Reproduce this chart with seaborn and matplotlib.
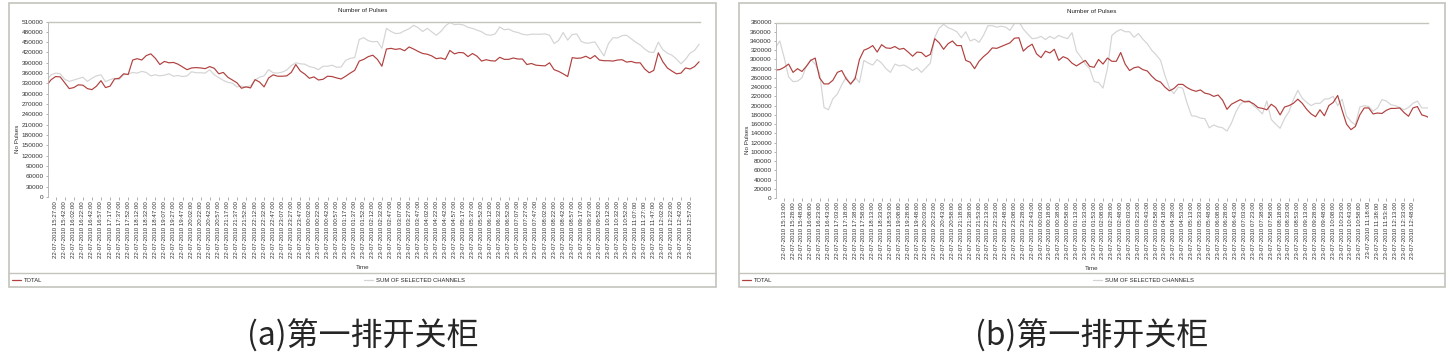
import numpy as np
import pandas as pd
import matplotlib
matplotlib.use('Agg')
import matplotlib.pyplot as plt
from matplotlib.patches import Rectangle
from matplotlib.lines import Line2D
import seaborn as sns

# tick times (label every ~20 min); date prefix follows from the hour
times_a = ['15:27', '15:42', '16:02', '16:22', '16:42', '16:57', '17:17', '17:37', '17:52',
           '18:12', '18:32', '18:47', '19:07', '19:27', '19:47', '20:02', '20:22', '20:42',
           '20:57', '21:17', '21:37', '21:52', '22:12', '22:32', '22:47', '23:07', '23:27',
           '23:47', '00:02', '00:22', '00:42', '00:57', '01:17', '01:37', '01:52', '02:12',
           '02:32', '02:47', '03:07', '03:27', '03:47', '04:02', '04:22', '04:42', '04:57',
           '05:17', '05:37', '05:52', '06:12', '06:32', '06:52', '07:07', '07:27', '07:47',
           '08:02', '08:22', '08:42', '08:57', '09:17', '09:37', '09:52', '10:12', '10:32',
           '10:52', '11:07', '11:27', '11:47', '12:02', '12:22', '12:42', '12:57']
times_b = ['15:13', '15:28', '15:48', '16:08', '16:23', '16:43', '17:03', '17:18', '17:38',
           '17:58', '18:13', '18:33', '18:53', '19:08', '19:28', '19:48', '20:03', '20:23',
           '20:43', '20:58', '21:18', '21:38', '21:53', '22:13', '22:33', '22:48', '23:08',
           '23:28', '23:43', '00:03', '00:18', '00:38', '00:58', '01:13', '01:33', '01:53',
           '02:08', '02:28', '02:48', '03:03', '03:23', '03:43', '03:58', '04:18', '04:38',
           '04:53', '05:13', '05:33', '05:48', '06:08', '06:28', '06:43', '07:03', '07:23',
           '07:38', '07:58', '08:18', '08:33', '08:53', '09:13', '09:28', '09:48', '10:08',
           '10:23', '10:43', '10:58', '11:18', '11:38', '11:53', '12:13', '12:33', '12:48']

# pulse counts in thousands, two samples per labelled interval
total_a = [324, 341, 350, 349, 332, 315, 318, 326, 325, 315,
           312, 322, 338, 318, 322, 343, 345, 358, 356, 398,
           402, 398, 411, 416, 403, 385, 394, 390, 391, 386,
           378, 370, 375, 376, 375, 373, 379, 374, 358, 362,
           348, 340, 332, 316, 320, 317, 341, 334, 320, 346,
           355, 351, 351, 352, 362, 385, 366, 357, 345, 349,
           340, 342, 351, 350, 346, 343, 351, 360, 368, 395,
           400, 408, 412, 400, 380, 430, 432, 429, 431, 425,
           436, 430, 423, 417, 415, 410, 402, 404, 400, 426,
           416, 420, 419, 408, 417, 409, 395, 399, 396, 395,
           406, 400, 400, 404, 401, 401, 385, 388, 383, 382,
           381, 390, 370, 365, 358, 350, 405, 403, 404, 409,
           402, 411, 398, 396, 396, 395, 398, 399, 392, 394,
           390, 390, 372, 361, 368, 419, 393, 375, 366, 358,
           360, 375, 372, 379, 393]
sum_a = [338, 355, 360, 358, 342, 336, 340, 344, 348, 336,
         345, 352, 355, 335, 341, 345, 341, 355, 357, 362,
         360, 365, 362, 352, 355, 352, 354, 358, 351, 353,
         350, 352, 364, 361, 361, 360, 370, 355, 347, 339,
         333, 331, 320, 322, 320, 323, 340, 348, 352, 370,
         361, 360, 363, 369, 382, 390, 387, 386, 379, 376,
         370, 380, 380, 383, 377, 378, 397, 403, 405, 458,
         463, 454, 451, 452, 432, 490, 481, 475, 476, 483,
         489, 499, 492, 481, 490, 480, 470, 481, 497, 507,
         501, 502, 500, 493, 490, 485, 480, 472, 470, 474,
         494, 486, 488, 481, 478, 473, 471, 473, 473, 473,
         474, 470, 446, 455, 478, 456, 472, 474, 452, 447,
         448, 451, 430, 410, 446, 463, 462, 469, 470, 460,
         450, 442, 430, 421, 420, 450, 428, 418, 412, 401,
         387, 400, 418, 426, 444]
total_b = [277, 278, 283, 290, 272, 280, 274, 285, 298, 303,
           260, 247, 247, 255, 272, 276, 258, 247, 258, 300,
           320, 324, 330, 316, 332, 325, 324, 328, 322, 324,
           316, 307, 316, 315, 306, 311, 345, 336, 322, 334,
           340, 330, 330, 298, 294, 280, 296, 306, 314, 325,
           324, 328, 332, 336, 346, 347, 318, 327, 333, 312,
           304, 318, 314, 322, 298, 306, 302, 292, 286, 292,
           298, 285, 283, 300, 290, 303, 296, 296, 315, 290,
           276, 282, 284, 278, 275, 264, 255, 251, 240, 232,
           237, 246, 246, 239, 234, 231, 234, 227, 225, 220,
           223, 212, 192, 203, 208, 213, 208, 209, 204, 196,
           194, 191, 203, 196, 180, 197, 200, 205, 214, 205,
           192, 182, 176, 191, 178, 200, 207, 222, 190, 160,
           148, 155, 180, 195, 195, 182, 184, 183, 190, 194,
           194, 195, 185, 177, 195, 198, 180, 177, 172]
sum_b = [325, 340, 304, 262, 252, 253, 260, 285, 300, 290,
         270, 196, 191, 215, 225, 245, 262, 245, 262, 250,
         298, 292, 288, 300, 292, 280, 272, 290, 286, 288,
         283, 276, 282, 272, 282, 292, 348, 368, 376, 369,
         365, 360, 347, 360, 340, 344, 337, 352, 373, 373,
         370, 372, 370, 363, 378, 382, 366, 355, 345, 346,
         350, 343, 350, 345, 352, 348, 345, 358, 318, 305,
         290, 280, 252, 250, 238, 280, 352, 360, 365, 360,
         360, 348, 356, 344, 334, 320, 310, 298, 265, 238,
         226, 240, 238, 205, 178, 177, 173, 172, 152, 158,
         154, 152, 145, 162, 186, 203, 210, 211, 200, 192,
         182, 210, 170, 160, 151, 172, 187, 213, 233, 216,
         207, 200, 205, 205, 214, 215, 220, 200, 214, 177,
         166, 158, 197, 200, 198, 188, 195, 213, 210, 202,
         200, 196, 191, 196, 205, 210, 195, 195, 195]

captions = ['(a)第一排开关柜', '(b)第一排开关柜']
TOTAL = 'TOTAL'
SUM = 'SUM OF SELECTED CHANNELS'
colors = {TOTAL: '#b0403f', SUM: '#d4d4d4'}
BORDER = '#c4c4bc'


def make_df(total, summ):
    df = pd.DataFrame({'idx': np.arange(len(total)),
                       TOTAL: np.array(total) * 1000,
                       SUM: np.array(summ) * 1000})
    return df.melt(id_vars='idx', var_name='series', value_name='pulses')


def tick_labels(times):
    return ['{}-07-2010 {}:00'.format('22' if int(t[:2]) >= 15 else '23', t) for t in times]


sns.set_style('white')
plt.rcParams['font.family'] = ['Liberation Sans', 'DejaVu Sans']

W, H = 1453, 364
fig = plt.figure(figsize=(W / 100, H / 100), dpi=100)


def px(x0, y0, x1, y1):
    return [x0 / W, 1 - y1 / H, (x1 - x0) / W, (y1 - y0) / H]


panels = [
    dict(total=total_a, summ=sum_a, times=times_a, ymax=510000, ystep=30000,
         axes=px(47.5, 21.5, 700, 197), xlim=(0.2, 144.2), box=(9, 716), cap=captions[0]),
    dict(total=total_b, summ=sum_b, times=times_b, ymax=380000, ystep=20000,
         axes=px(776, 22.5, 1428, 198), xlim=(0.15, 147.4), box=(739, 1445), cap=captions[1]),
]

for p in panels:
    ax = fig.add_axes(p['axes'])
    df = make_df(p['total'], p['summ'])
    sns.lineplot(data=df, x='idx', y='pulses', hue='series', hue_order=[SUM, TOTAL],
                 palette=colors, estimator=None, legend=False, lw=0.85, ax=ax)
    ax.set_xlim(*p['xlim'])
    ax.set_ylim(0, p['ymax'])
    ax.set_yticks(np.arange(0, p['ymax'] + 1, p['ystep']))
    ax.set_yticklabels([str(v) for v in np.arange(0, p['ymax'] + 1, p['ystep'])])
    ax.set_xticks(2 + 2 * np.arange(len(p['times'])))
    ax.set_xticklabels(tick_labels(p['times']), rotation=90)
    ax.tick_params(axis='both', length=1.8, width=0.5, color='#909090',
                   pad=1.2, labelcolor='#333333')
    ax.tick_params(axis='x', labelsize=4.4)
    ax.tick_params(axis='y', labelsize=4.6)
    ax.tick_params(axis='both', which='both', bottom=True, left=True)
    for s in ['right', 'bottom']:
        ax.spines[s].set_visible(False)
    ax.spines['top'].set_color(BORDER)
    ax.spines['top'].set_linewidth(1.0)
    ax.spines['left'].set_color('#b0b0b0')
    ax.spines['left'].set_linewidth(0.6)

    x0, x1 = p['box']
    axl, axr = p['axes'][0] * W, (p['axes'][0] + p['axes'][2]) * W
    cx = ((x0 + x1) / 2 - axl) / (axr - axl)
    ax.set_ylabel('No Pulses', fontsize=4.5, color='#333333')
    ax.yaxis.set_label_coords((x0 + 11 - axl) / (axr - axl), 0.33)
    ax.set_xlabel('Time', fontsize=4.5, color='#333333')
    ax.xaxis.set_label_coords(cx, -0.385)
    ax.text(cx, 1.06, 'Number of Pulses', transform=ax.transAxes, ha='center',
            va='center', fontsize=4.5, color='#222222')

    # panel frame and legend strip
    fig.patches.append(Rectangle((x0 / W, 1 - 287 / H), (x1 - x0) / W, 284 / H,
                                 transform=fig.transFigure, fill=False,
                                 ec=BORDER, lw=1.2))
    fig.lines.append(Line2D([x0 / W, x1 / W], [1 - 273 / H] * 2,
                            transform=fig.transFigure, color=BORDER, lw=1.0))
    for name, lx in [(TOTAL, x0 + 3), (SUM, (x0 + x1) / 2 + 1)]:
        fig.legend(handles=[Line2D([], [], color=colors[name], lw=0.9)], labels=[name],
                   loc='center left', bbox_to_anchor=(lx / W, 1 - 280 / H),
                   frameon=False, fontsize=4.2, handlelength=1.6, handletextpad=0.5,
                   borderpad=0, borderaxespad=0)

    fig.text((x0 + x1) / 2 / W, 1 - 336 / H, p['cap'], fontsize=23, ha='center',
             va='center', fontweight='light', family=['Noto Sans CJK SC', 'DejaVu Sans'])

fig.savefig('out.png', dpi=100, facecolor='white')
